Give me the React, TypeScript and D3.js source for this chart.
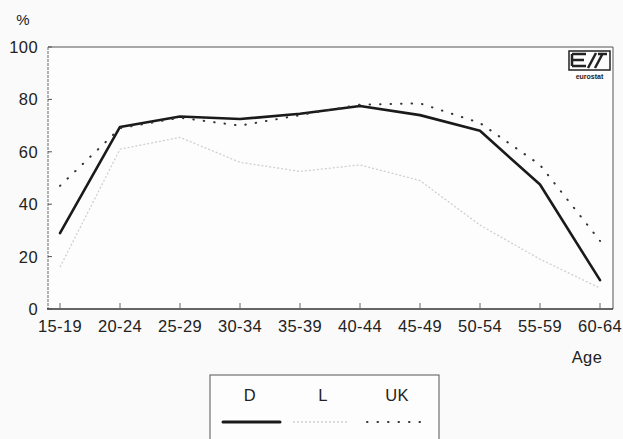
import React from "react";
import * as d3 from "d3";

const ageGroups = ["15-19", "20-24", "25-29", "30-34", "35-39", "40-44", "45-49", "50-54", "55-59", "60-64"];
const seriesD = [29, 69.5, 73.5, 72.5, 74.5, 77.5, 74, 68, 47.5, 11];
const seriesL = [16, 61, 65.5, 56, 52.5, 55, 49, 32, 19, 8];
const seriesUK = [47, 69, 73, 70, 74, 78, 78.5, 71, 55, 26];
const yTicks = [0, 20, 40, 60, 80, 100];
const legendNames = ["D", "L", "UK"];

const W = 623, H = 439;
const frame = { left: 48, right: 613, top: 47, bottom: 309 };

export default function App() {
  const x = d3.scalePoint<string>().domain(ageGroups).range([60, 600]);
  const y = d3.scaleLinear().domain([0, 100]).range([frame.bottom, frame.top]);
  const line = d3.line<number>().x((_, i) => x(ageGroups[i])!).y((d) => y(d));
  const font = "'Liberation Sans', Arial, sans-serif";

  const series = [
    { name: "D", data: seriesD, stroke: "#1a1a1a", width: 2.6, dash: undefined as string | undefined, cap: "round" },
    { name: "L", data: seriesL, stroke: "#cfcfcf", width: 1.3, dash: "2 2", cap: "butt" },
    { name: "UK", data: seriesUK, stroke: "#333", width: 2, dash: "0.5 10", cap: "round" },
  ];

  const legendX = [250, 323, 397];
  const legendLines = [[223, 280], [293, 347], [367, 430]];
  const txt = { fontSize: 16.5, fill: "#222", letterSpacing: 0.4 } as const;

  return (
    <svg width={W} height={H} style={{ position: "absolute", left: 0, top: 0, background: "#fafafa" }} fontFamily={font}>
      <rect x={0} y={0} width={W} height={H} fill="#fafafa" />
      <rect x={frame.left} y={frame.top} width={frame.right - frame.left} height={frame.bottom - frame.top} fill="#fdfdfd" />
      {/* frame */}
      <line x1={frame.left} x2={frame.right} y1={frame.top} y2={frame.top} stroke="#555" strokeWidth={1} />
      <line x1={frame.right} x2={frame.right} y1={frame.top} y2={frame.bottom} stroke="#555" strokeWidth={1} />
      <line x1={frame.left} x2={frame.left} y1={frame.top} y2={frame.bottom} stroke="#666" strokeWidth={1} strokeDasharray="3 1" />
      <line x1={frame.left - 1} x2={frame.right} y1={frame.bottom} y2={frame.bottom} stroke="#333" strokeWidth={1.6} />
      {/* y ticks */}
      {yTicks.map((t) => (
        <g key={t}>
          <line x1={frame.left} x2={frame.left + 4} y1={y(t)} y2={y(t)} stroke="#555" />
          <text x={38} y={y(t)} dy="0.36em" textAnchor="end" {...txt}>{t}</text>
        </g>
      ))}
      {/* x ticks */}
      {ageGroups.map((g) => (
        <g key={g}>
          <line x1={x(g)!} x2={x(g)!} y1={frame.bottom} y2={frame.bottom - 6} stroke="#666" />
          <text x={x(g)!} y={332} textAnchor="middle" {...txt}>{g}</text>
        </g>
      ))}
      <text x={23} y={25} textAnchor="middle" fontSize={15} fill="#222">%</text>
      <text x={587} y={363} textAnchor="middle" {...txt}>Age</text>
      {/* eurostat logo */}
      <g>
        <rect x={569} y={51} width={41} height={19} fill="none" stroke="#222" strokeWidth={1.5} />
        <path d="M572,54 h14 M572,60 h12 M572,66 h14 M572,54 v12" stroke="#222" strokeWidth={2.5} fill="none" />
        <path d="M588,68 l8,-15 M595,68 l8,-15 M598,54 h9" stroke="#222" strokeWidth={2.5} fill="none" />
        <text x={589.5} y={79} textAnchor="middle" fontSize={7} fontWeight="bold" fill="#222">eurostat</text>
      </g>
      {/* series */}
      {series.map((s) => (
        <path key={s.name} d={line(s.data)!} fill="none" stroke={s.stroke} strokeWidth={s.width}
          strokeDasharray={s.dash} strokeLinecap={s.cap as any} strokeLinejoin="round" />
      ))}
      {/* legend */}
      <rect x={210} y={375} width={229} height={70} fill="#fdfdfd" stroke="#555" strokeWidth={1} />
      {legendNames.map((n, i) => {
        const s = series[i];
        return (
          <g key={n}>
            <text x={legendX[i]} y={401} textAnchor="middle" {...txt}>{n}</text>
            <line x1={legendLines[i][0]} x2={legendLines[i][1]} y1={422} y2={422} stroke={s.stroke}
              strokeWidth={i === 0 ? 3 : s.width} strokeDasharray={s.dash} strokeLinecap={s.cap as any} />
          </g>
        );
      })}
    </svg>
  );
}
